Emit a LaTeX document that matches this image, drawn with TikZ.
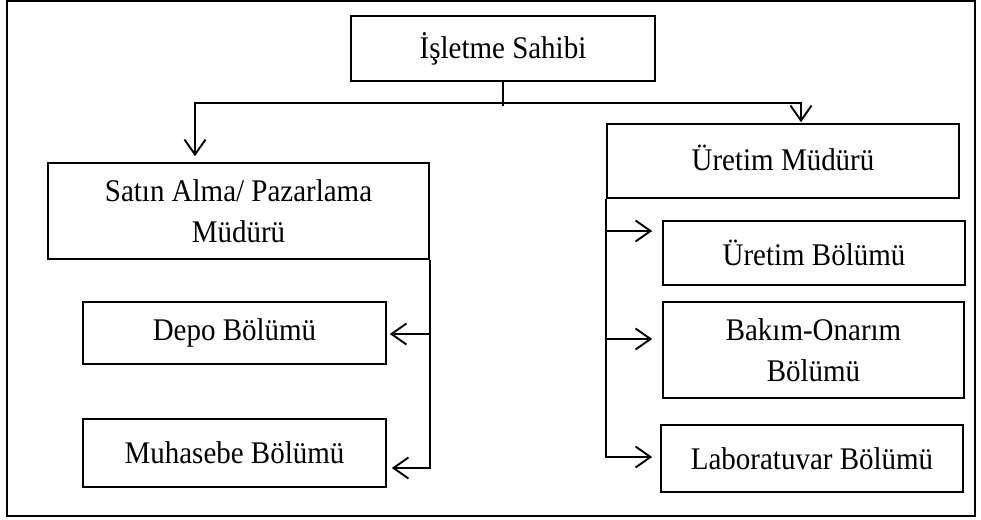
\documentclass[tikz,border=0pt]{standalone}
\usepackage{fontspec}
\setmainfont{Liberation Serif}[FakeStretch=0.92]
\usetikzlibrary{arrows.meta,calc}

\begin{document}
\begin{tikzpicture}[x=1pt,y=-1pt,
  unit/.style={draw, line width=1.6pt, inner sep=0pt, align=center,
    font=\fontsize{31.5}{41}\selectfont},
  conn/.style={line width=1.9pt},
  arr/.style={conn, -{Straight Barb[length=15pt,width=21pt,line width=1.9pt]}}]
  \useasboundingbox (0,0) rectangle (981,519);

  % outer frame
  \draw[line width=1.8pt] (7,1) rectangle (975,516);

  % units
  \node[unit, minimum width=304pt, minimum height=65pt] (owner) at (503,48.5) {İşletme Sahibi};
  \node[unit, minimum width=381pt, minimum height=96pt] (purchase) at (238.5,211) {Satın Alma/ Pazarlama\\Müdürü};
  \node[unit, minimum width=303pt, minimum height=62pt] (store) at (234.5,333) {Depo Bölümü};
  \node[unit, minimum width=303pt, minimum height=68pt] (account) at (234.5,453) {Muhasebe Bölümü};
  \node[unit, minimum width=352pt, minimum height=74pt] (prodman) at (783,161) {\raisebox{6pt}{Üretim Müdürü}};
  \node[unit, minimum width=302pt, minimum height=64pt] (prod) at (814,253) {Üretim Bölümü};
  \node[unit, minimum width=301pt, minimum height=96pt] (repair) at (813.5,350) {Bakım-Onarım\\Bölümü};
  \node[unit, minimum width=302pt, minimum height=67pt] (lab) at (812,458.5) {Laboratuvar Bölümü};

  % top distribution bus
  \coordinate (busL) at (195,103);
  \coordinate (busR) at (801,103);
  \draw[conn] (owner.south) -- ($(owner.south)+(0,24)$);
  \draw[arr, shorten >=6pt] (owner.south |- busL) -- (busL) -- (busL |- purchase.north);
  \draw[arr, shorten >=1pt] (owner.south |- busR) -- (busR) -- (busR |- prodman.north);

  % purchasing branch
  \coordinate (lstore) at (431,334);
  \coordinate (lacc) at (431,468);
  \draw[conn] (purchase.south east) -- (purchase.south east |- lacc);
  \draw[arr, shorten >=3pt] (lstore) -- (lstore -| store.east);
  \draw[arr, shorten >=5pt] (lacc) -- (lacc -| account.east);

  % production branch
  \coordinate (rprod) at (605,231);
  \coordinate (rrep) at (605,339);
  \coordinate (rlab) at (607,457);
  \draw[arr, shorten >=8pt] (prodman.south west) -- (prodman.south west |- rlab) -- (rlab -| lab.west);
  \draw[arr, shorten >=10pt] (rprod) -- (rprod -| prod.west);
  \draw[arr, shorten >=10pt] (rrep) -- (rrep -| repair.west);
\end{tikzpicture}
\end{document}
